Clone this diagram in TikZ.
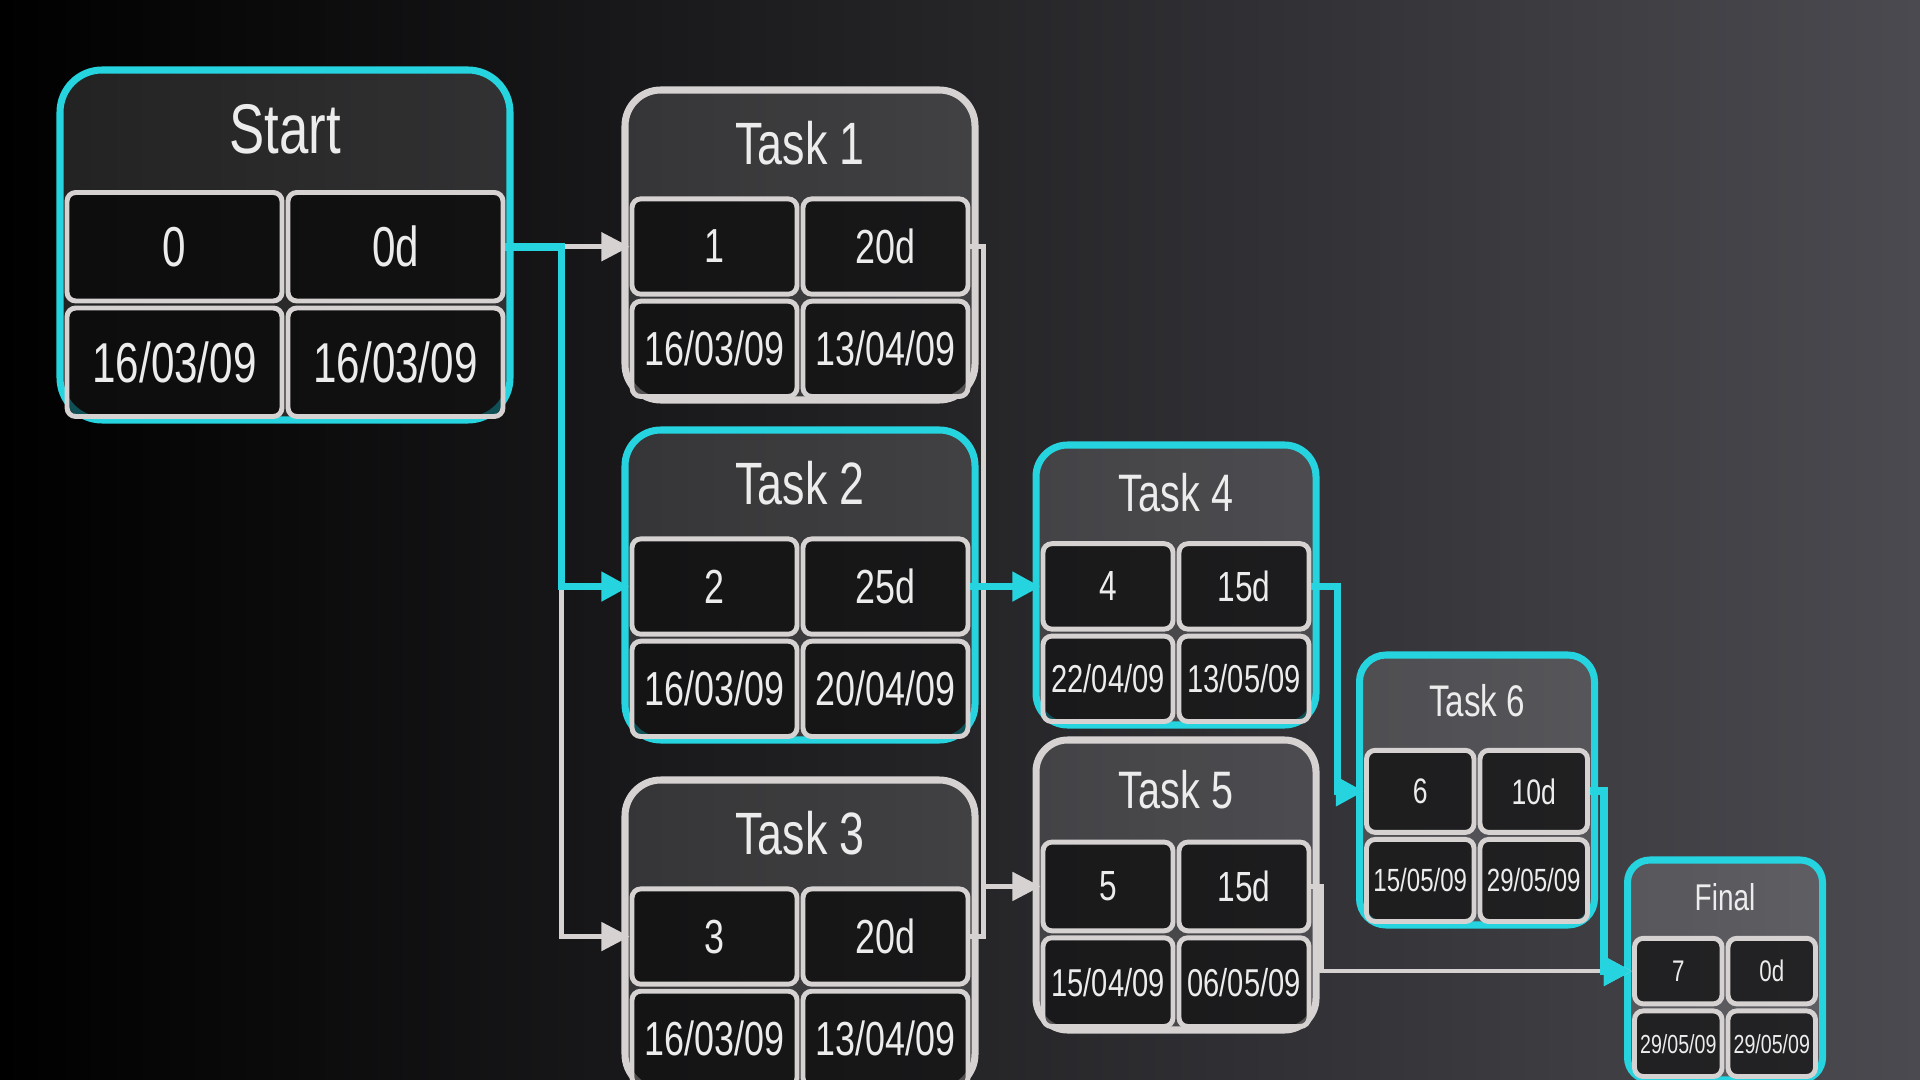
\documentclass[tikz,border=0pt]{standalone}
\usepackage{fontspec}
\setmainfont{Liberation Sans}[FakeStretch=0.75]
\usetikzlibrary{arrows.meta}

\definecolor{critcyan}{RGB}{38,212,224}
\definecolor{boxgray}{RGB}{215,210,210}
\definecolor{txtgray}{RGB}{236,236,236}
\definecolor{bgmid}{RGB}{22,22,24}
\definecolor{bgright}{RGB}{74,74,80}

\begin{document}
\begin{tikzpicture}[>={Triangle[length=8pt,width=8pt]},
  taskbox/.style={line width=2pt,fill=white,fill opacity=0.13},
  cell/.style={draw=boxgray,line width=1.4pt,rounded corners=2.5pt,fill=black,fill opacity=0.62,text opacity=1,text=txtgray,inner sep=0pt},
  wline/.style={draw=boxgray,line width=1.3pt},
  cline/.style={draw=critcyan,line width=2.2pt}]
\useasboundingbox (0,0) rectangle (19.2,-10.8);
\clip (0,0) rectangle (19.2,-10.8);
\shade[left color=black,middle color=bgmid,right color=bgright] (0,0) rectangle (19.2,-10.8);
% boxes: name/x/y/width/height/scale/border/title/id/duration/start/finish
\foreach \n/\x/\y/\w/\h/\s/\col/\ttl/\nid/\dur/\es/\ef in {
  start/2.85/-2.45/4.5/3.5/1.0/critcyan/Start/0/0d/{16/03/09}/{16/03/09},
  t1/8.0/-2.45/3.5/3.1/0.85/boxgray/Task 1/1/20d/{16/03/09}/{13/04/09},
  t2/8.0/-5.85/3.5/3.1/0.85/critcyan/Task 2/2/25d/{16/03/09}/{20/04/09},
  t3/8.0/-9.35/3.5/3.1/0.85/boxgray/Task 3/3/20d/{16/03/09}/{13/04/09},
  t4/11.76/-5.85/2.8/2.8/0.75/critcyan/Task 4/4/15d/{22/04/09}/{13/05/09},
  t5/11.76/-8.85/2.8/2.9/0.75/boxgray/Task 5/5/15d/{15/04/09}/{06/05/09},
  t6/14.77/-7.9/2.35/2.7/0.63/critcyan/Task 6/6/10d/{15/05/09}/{29/05/09},
  fin/17.25/-9.7/1.95/2.2/0.53/critcyan/Final/7/0d/{29/05/09}/{29/05/09}}{
  \pgfmathsetmacro\cw{\w/2-0.1}
  \pgfmathsetmacro\ch{0.33*\h-0.07}
  \pgfmathsetmacro\rc{12*\s}
  \pgfmathsetmacro\ft{20*\s}
  \pgfmathsetmacro\fc{16*\s}
  \pgfmathsetmacro\fd{min(16*\s,8.5*\cw)}
  \node[taskbox,draw=\col,rounded corners=\rc pt,minimum width=\w cm,minimum height=\h cm] (\n) at (\x,\y) {};
  \node[text=txtgray,font=\fontsize{\ft}{\ft}\selectfont] (\n-title) at (\x,\y+0.33*\h) {\ttl};
  \node[cell,minimum width=\cw cm,minimum height=\ch cm,font=\fontsize{\fc}{\fc}\selectfont] (\n-id) at (\x-0.25*\w+0.02,\y-0.005*\h) {\nid};
  \node[cell,minimum width=\cw cm,minimum height=\ch cm,font=\fontsize{\fc}{\fc}\selectfont] (\n-dur) at (\x+0.25*\w-0.02,\y-0.005*\h) {\dur};
  \node[cell,minimum width=\cw cm,minimum height=\ch cm,font=\fontsize{\fd}{\fd}\selectfont] (\n-es) at (\x-0.25*\w+0.02,\y-0.335*\h) {\es};
  \node[cell,minimum width=\cw cm,minimum height=\ch cm,font=\fontsize{\fd}{\fd}\selectfont] (\n-ef) at (\x+0.25*\w-0.02,\y-0.335*\h) {\ef};
}
% start -> tasks 1, 2, 3
\path (start-dur.east) ++(0.56,0) coordinate (s1);
\draw[wline,->] (s1) -- (s1 -| t1-id.west);
\draw[wline,->] (s1) |- (t3-id.west);
\draw[cline,->] (start-dur.east) -- (s1) |- (t2-id.west);
% tasks 1, 3 -> task 5
\path (t1-dur.east) ++(0.13,0) coordinate (b1);
\draw[wline,->] (t1-dur.east) -- (b1) |- (t5-id.west);
\draw[wline] (t3-dur.east) -| (b1 |- t5-id.west);
% task 2 -> task 4
\draw[cline,->] (t2-dur.east) -- (t2-dur.east -| t4-id.west);
% task 5 -> final
\path (t5-dur.east) ++(0.1,0) coordinate (c2);
\draw[wline,->] (t5-dur.east) -- (c2) |- (fin-id.west);
% task 4 -> task 6
\path (t4-dur.east) ++(0.26,0) coordinate (c1);
\draw[cline,->] (t4-dur.east) -- (c1) |- (t6-id.west);
% task 6 -> final
\path (t6-dur.east) ++(0.14,0) coordinate (d1);
\draw[cline,->] (t6-dur.east) -- (d1) |- (fin-id.west);
\end{tikzpicture}
\end{document}
